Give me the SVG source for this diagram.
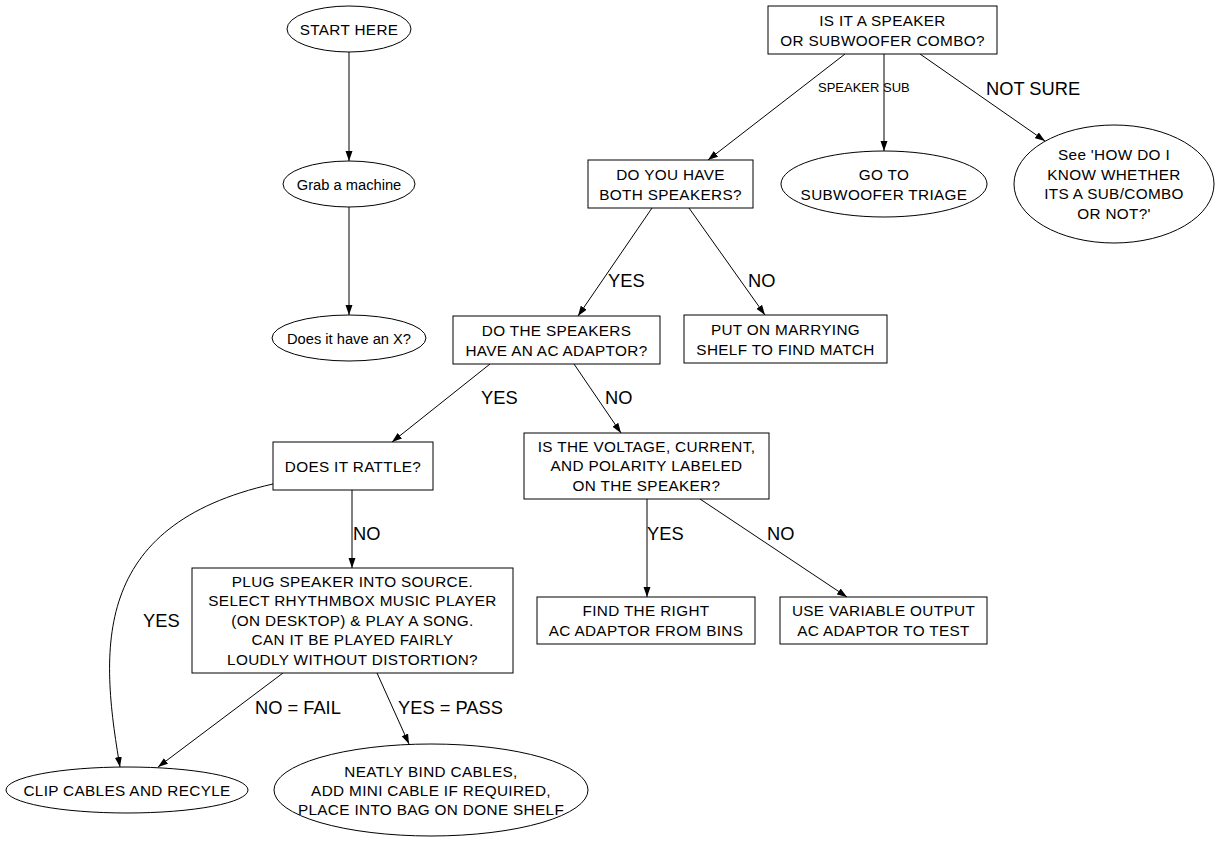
<svg xmlns="http://www.w3.org/2000/svg" width="1217" height="843" viewBox="0 0 1217 843">
<defs>
<marker id="arr" markerUnits="userSpaceOnUse" markerWidth="11" markerHeight="8" refX="10" refY="3.5" orient="auto">
<path d="M0,0 L10,3.5 L0,7 z" fill="#000"/>
</marker>
<style>
.n{fill:#fff;stroke:#000;stroke-width:1}
.t{font-family:"Liberation Sans",Arial,sans-serif;font-size:15.3px;letter-spacing:0.35px;fill:#000;text-anchor:middle}
.m{letter-spacing:0;font-size:14.7px}
.e{fill:none;stroke:#000;stroke-width:1;marker-end:url(#arr)}
.l{font-family:"Liberation Sans",Arial,sans-serif;font-size:18.3px;fill:#000}
.s{font-family:"Liberation Sans",Arial,sans-serif;font-size:13px;fill:#000}
</style>
</defs>
<rect width="1217" height="843" fill="#fff"/>
<g id="edges">
<line class="e" x1="349" y1="52" x2="349" y2="161"/>
<line class="e" x1="349" y1="207" x2="349" y2="315"/>
<line class="e" x1="845" y1="54" x2="708" y2="160"/>
<line class="e" x1="884" y1="54" x2="884" y2="151"/>
<line class="e" x1="920" y1="54" x2="1045" y2="141"/>
<line class="e" x1="652" y1="208" x2="578" y2="316"/>
<line class="e" x1="689" y1="208" x2="765" y2="315"/>
<line class="e" x1="490" y1="364" x2="392" y2="442"/>
<line class="e" x1="574" y1="364" x2="621" y2="433"/>
<line class="e" x1="352" y1="490" x2="352" y2="568"/>
<path class="e" d="M273,484 C90,525 100,650 120,767"/>
<line class="e" x1="283" y1="673" x2="158" y2="767"/>
<line class="e" x1="377" y1="673" x2="409" y2="744"/>
<line class="e" x1="647" y1="499" x2="647" y2="597"/>
<line class="e" x1="700" y1="499" x2="847" y2="597"/>
<text class="s" x="818" y="92">SPEAKER SUB</text>
<text class="l" x="986" y="95">NOT SURE</text>
<text class="l" x="608" y="287">YES</text>
<text class="l" x="748" y="287">NO</text>
<text class="l" x="481" y="404">YES</text>
<text class="l" x="605" y="404">NO</text>
<text class="l" x="353" y="540">NO</text>
<text class="l" x="143" y="627">YES</text>
<text class="l" x="255" y="714">NO = FAIL</text>
<text class="l" x="398" y="714">YES = PASS</text>
<text class="l" x="647" y="540">YES</text>
<text class="l" x="767" y="540">NO</text>
</g>
<g id="start">
<ellipse class="n" cx="349" cy="29" rx="62" ry="23"/>
<text class="t" x="349" y="34.5">START HERE</text>
</g>
<g id="grab">
<ellipse class="n" cx="349" cy="184" rx="66" ry="23"/>
<text class="t m" x="349" y="189.5">Grab a machine</text>
</g>
<g id="hasx">
<ellipse class="n" cx="349" cy="338" rx="77" ry="23"/>
<text class="t m" x="349" y="343.5">Does it have an X?</text>
</g>
<g id="combo">
<rect class="n" x="768" y="6" width="229" height="48"/>
<text class="t" x="882.5" y="25.5">IS IT A SPEAKER</text>
<text class="t" x="882.5" y="45.5">OR SUBWOOFER COMBO?</text>
</g>
<g id="both">
<rect class="n" x="588" y="160" width="165" height="48"/>
<text class="t" x="670.5" y="179.5">DO YOU HAVE</text>
<text class="t" x="670.5" y="199.5">BOTH SPEAKERS?</text>
</g>
<g id="subtriage">
<ellipse class="n" cx="884" cy="184" rx="103" ry="33"/>
<text class="t" x="884" y="179.5">GO TO</text>
<text class="t" x="884" y="199.5">SUBWOOFER TRIAGE</text>
</g>
<g id="notsure">
<ellipse class="n" cx="1114" cy="184" rx="100" ry="59"/>
<text class="t" x="1114" y="160">See 'HOW DO I</text>
<text class="t" x="1114" y="179.5">KNOW WHETHER</text>
<text class="t" x="1114" y="199">ITS A SUB/COMBO</text>
<text class="t" x="1114" y="218.5">OR NOT?'</text>
</g>
<g id="adaptor">
<rect class="n" x="453" y="316" width="207" height="48"/>
<text class="t" x="556.5" y="335.5">DO THE SPEAKERS</text>
<text class="t" x="556.5" y="355.5">HAVE AN AC ADAPTOR?</text>
</g>
<g id="marrying">
<rect class="n" x="684" y="315" width="203" height="48"/>
<text class="t" x="785.5" y="334.5">PUT ON MARRYING</text>
<text class="t" x="785.5" y="354.5">SHELF TO FIND MATCH</text>
</g>
<g id="rattle">
<rect class="n" x="273" y="442" width="160" height="48"/>
<text class="t" x="353" y="471.5">DOES IT RATTLE?</text>
</g>
<g id="voltage">
<rect class="n" x="524" y="433" width="245" height="66"/>
<text class="t" x="646.5" y="451.5">IS THE VOLTAGE, CURRENT,</text>
<text class="t" x="646.5" y="471">AND POLARITY LABELED</text>
<text class="t" x="646.5" y="490.5">ON THE SPEAKER?</text>
</g>
<g id="plug">
<rect class="n" x="192" y="568" width="321" height="105"/>
<text class="t" x="352.5" y="586.5">PLUG SPEAKER INTO SOURCE.</text>
<text class="t" x="352.5" y="606">SELECT RHYTHMBOX MUSIC PLAYER</text>
<text class="t" x="352.5" y="625.5">(ON DESKTOP) &amp; PLAY A SONG.</text>
<text class="t" x="352.5" y="645">CAN IT BE PLAYED FAIRLY</text>
<text class="t" x="352.5" y="664.5">LOUDLY WITHOUT DISTORTION?</text>
</g>
<g id="findright">
<rect class="n" x="537" y="597" width="218" height="47"/>
<text class="t" x="646" y="615.5">FIND THE RIGHT</text>
<text class="t" x="646" y="635.5">AC ADAPTOR FROM BINS</text>
</g>
<g id="variable">
<rect class="n" x="780" y="597" width="207" height="47"/>
<text class="t" x="883.5" y="615.5">USE VARIABLE OUTPUT</text>
<text class="t" x="883.5" y="635.5">AC ADAPTOR TO TEST</text>
</g>
<g id="clip">
<ellipse class="n" cx="127" cy="790" rx="121" ry="23"/>
<text class="t" x="127" y="795.5">CLIP CABLES AND RECYLE</text>
</g>
<g id="bind">
<ellipse class="n" cx="431" cy="790" rx="157" ry="46"/>
<text class="t" x="431" y="776.5">NEATLY BIND CABLES,</text>
<text class="t" x="431" y="795.5">ADD MINI CABLE IF REQUIRED,</text>
<text class="t" x="431" y="815">PLACE INTO BAG ON DONE SHELF</text>
</g>
</svg>
